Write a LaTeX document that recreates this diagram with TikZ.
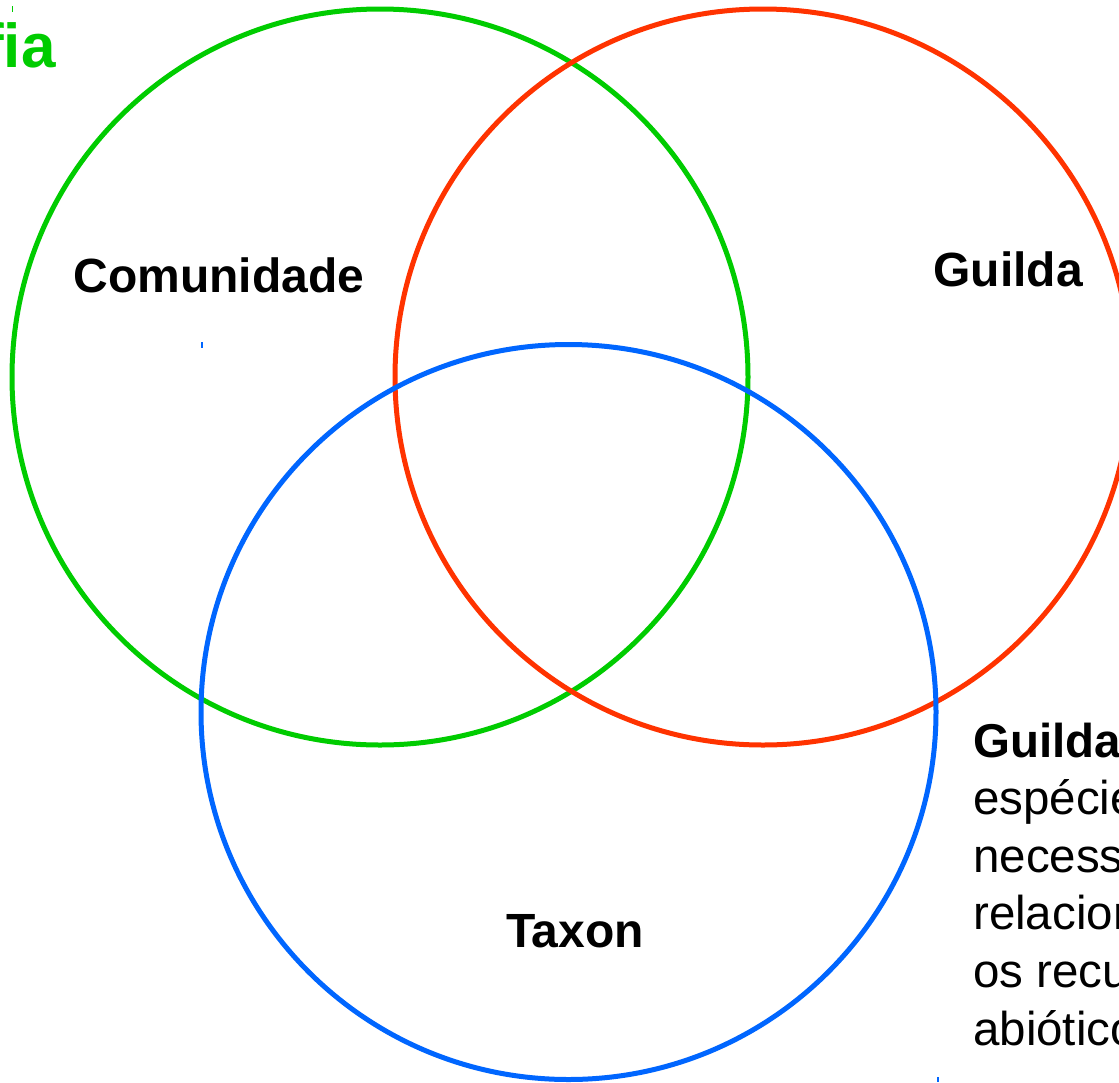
\documentclass[tikz,border=0pt]{standalone}
\usepackage{fontspec}
\setmainfont{Liberation Sans}
\definecolor{cgreen}{HTML}{00CC00}
\definecolor{cred}{HTML}{FF3300}
\definecolor{cblue}{HTML}{0066FF}
\begin{document}
\begin{tikzpicture}[x=1pt,y=-1pt,
  ring/.style={line width=5pt},
  lbl/.style={inner sep=0pt,font=\fontsize{48}{58}\selectfont\bfseries},
  body/.style={inner sep=0pt,anchor=base west,font=\fontsize{47.5}{57}\selectfont},
  tick/.style={line width=1.2pt}]
\useasboundingbox (0,0) rectangle (1119,1082);
\clip (0,0) rectangle (1119,1082);
\fill[white] (0,0) rectangle (1119,1082);
\draw[ring,cgreen] (380,377) circle (368);
\draw[ring,cred] (763,377) circle (368);
\draw[ring,cblue] (568.5,712) circle (367.5);
\node[lbl,anchor=base] (com) at (219,292) {Comunidade};
\node[lbl,anchor=base] (gui) at (1008,286) {Guilda};
\node[lbl,anchor=base] (tax) at (575,947) {Taxon};
\node[inner sep=0pt,anchor=base west,text=cgreen,font=\fontsize{62}{64}\selectfont\bfseries] (fia) at (-17,67) {fia};
\node[body,font=\fontsize{47.5}{57}\selectfont\bfseries] (l1) at (973,757) {Guilda};
\node[body] (l2) at (973,814.6) {espécies};
\node[body] (l3) at (973,872.2) {necess};
\node[body] (l4) at (973,929.8) {relacion};
\node[body] (l5) at (973,987.4) {os recu};
\node[body] (l6) at (973,1045) {abiótico};
\coordinate (t1a) at (12.7,6); \coordinate (t1b) at (12.7,12);
\coordinate (t2a) at (202,342); \coordinate (t2b) at (202,348);
\coordinate (t3a) at (938,1077); \coordinate (t3b) at (938,1082);
\draw[tick,cgreen] (t1a) -- (t1b);
\draw[tick,cblue] (t2a) -- (t2b);
\draw[tick,cblue] (t3a) -- (t3b);
\end{tikzpicture}
\end{document}
